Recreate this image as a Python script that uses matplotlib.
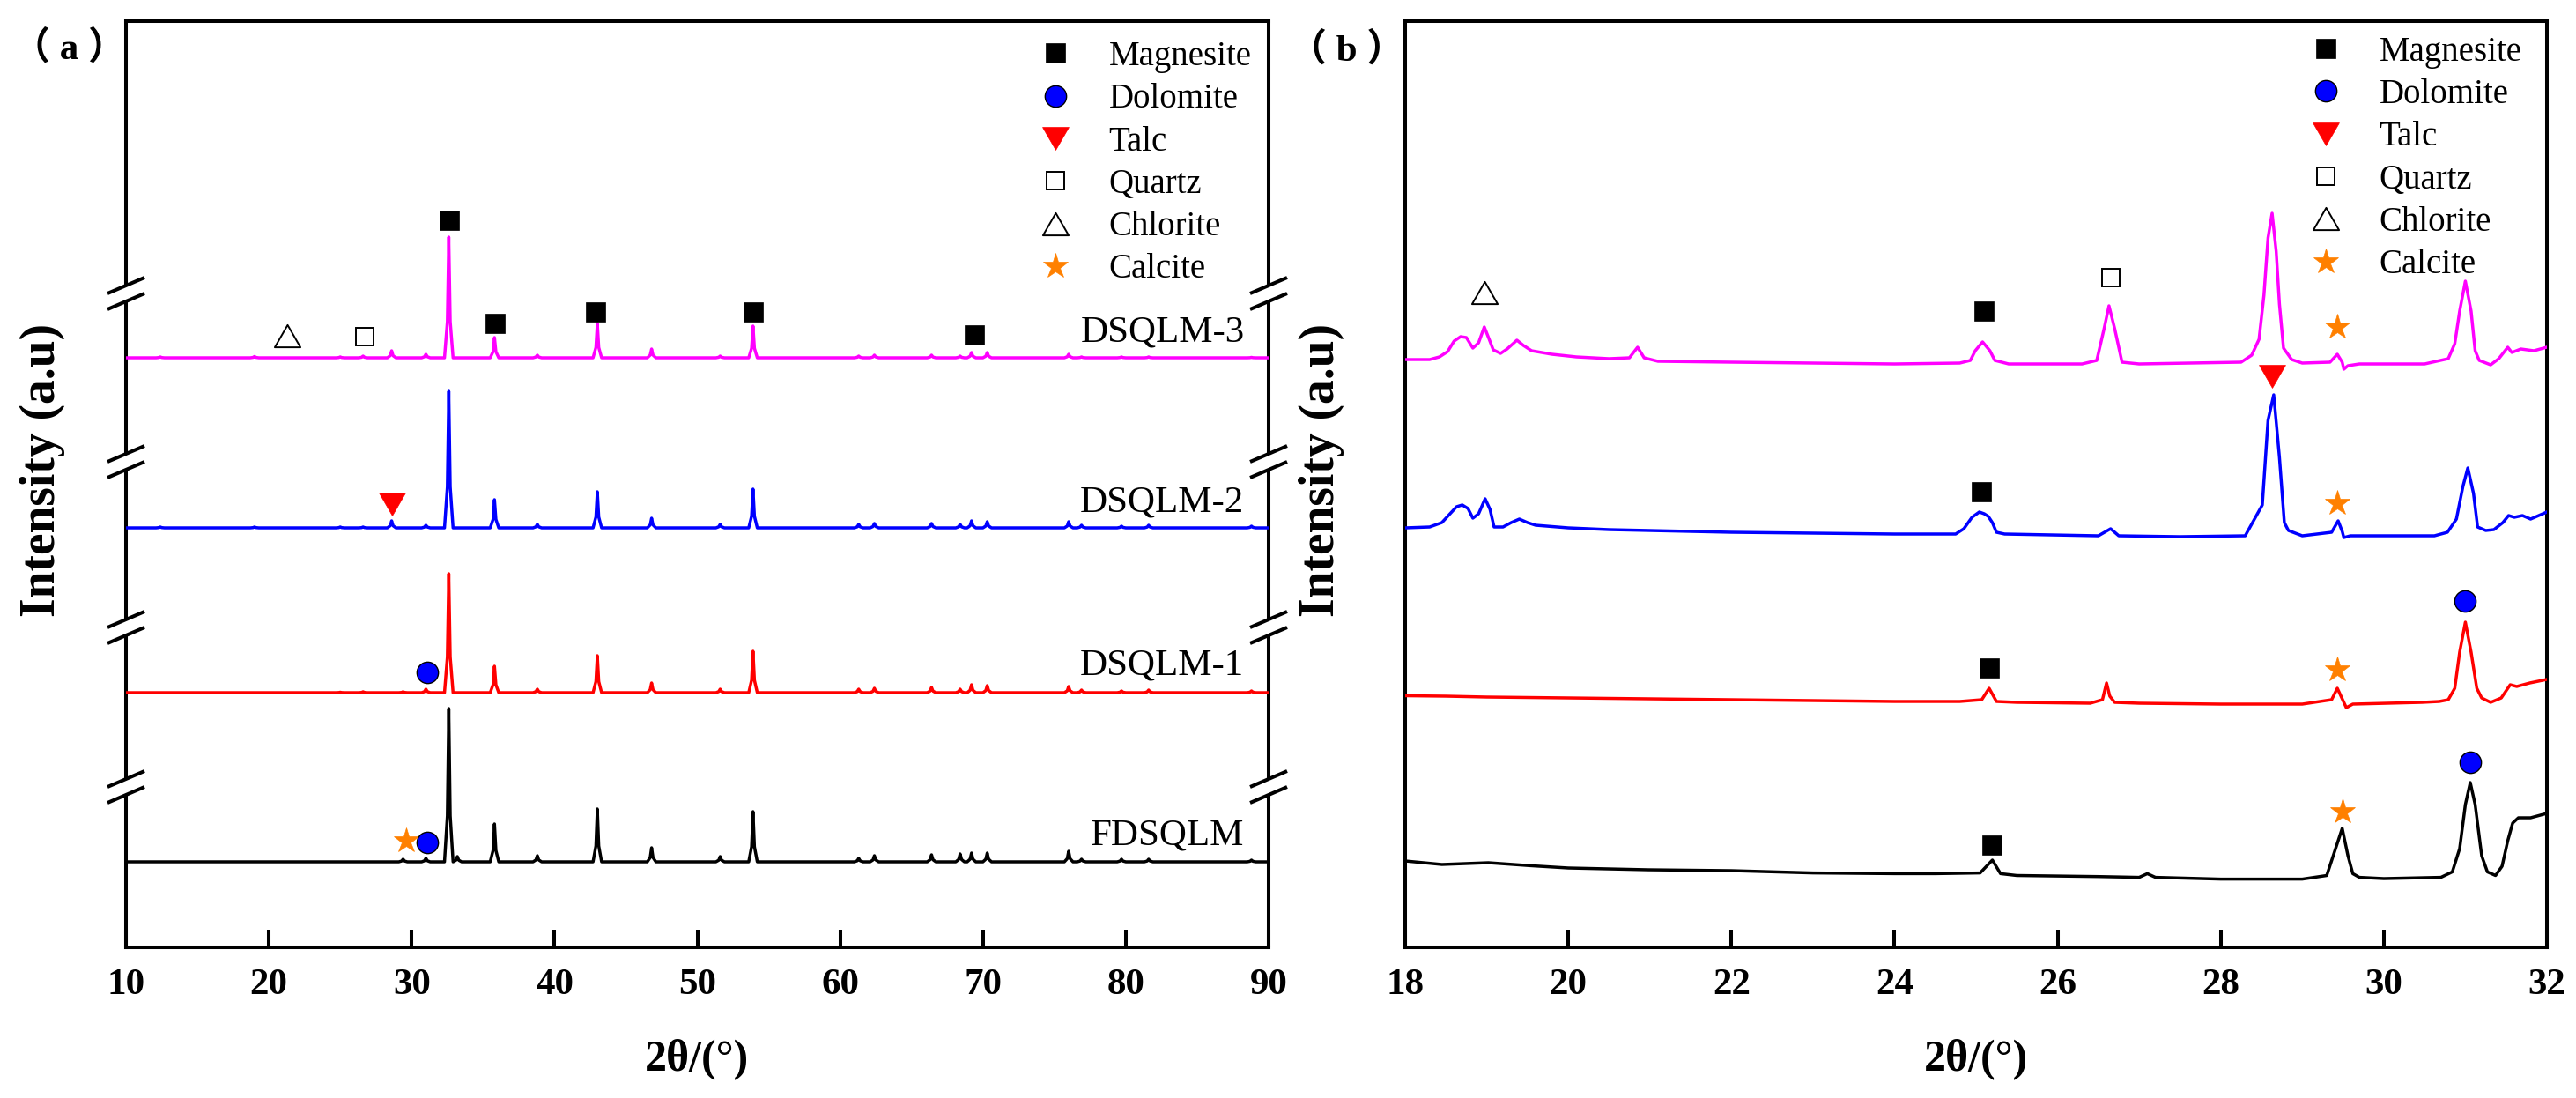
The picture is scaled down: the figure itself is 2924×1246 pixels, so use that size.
import matplotlib
matplotlib.use("Agg")
import matplotlib.pyplot as plt
from matplotlib.lines import Line2D
from matplotlib.path import Path

plt.rcParams['font.family'] = ['Liberation Serif', 'DejaVu Serif']

# ---------------- Panel (a): 2θ = 10–90° ----------------
a_samples = ['FDSQLM', 'DSQLM-1', 'DSQLM-2', 'DSQLM-3']
a_peak_2theta = [12.4, 19.0, 25.0, 26.6, 28.6, 29.4, 31.0, 32.6, 33.2, 35.8, 38.8, 43.0,
                 46.8, 51.6, 53.9, 61.3, 62.4, 66.4, 68.4, 69.2, 70.3, 76.0, 76.9, 79.7,
                 81.6, 88.8]
a_int_fdsqlm = [0, 0, 0, 0, 0, 3, 4, 174, 6, 43, 7, 60, 16, 6, 57, 4, 7, 8, 9, 10, 10, 12, 3, 3, 3, 2]
a_int_dsqlm1 = [0, 0, 0.5, 1, 0, 1, 4, 135, 0, 30, 4, 42, 11, 4, 47, 4, 5, 6, 4, 9, 8, 7, 3, 2, 3, 2]
a_int_dsqlm2 = [1, 1, 1, 1, 8, 0, 3, 155, 0, 32, 4, 41, 11, 4, 44, 4, 5, 5, 4, 8, 7, 7, 3, 2, 3, 2]
a_int_dsqlm3 = [1, 1.5, 1, 2, 8, 0, 4, 137, 0, 23, 3, 39, 10, 2, 36, 2, 3, 3, 2, 6, 6, 4, 1, 1, 1, 0.5]
a_intensities = [a_int_fdsqlm, a_int_dsqlm1, a_int_dsqlm2, a_int_dsqlm3]

# phase identification marks in (a): (sample, phase, 2θ, height above own baseline)
a_marks = [
    ('DSQLM-3', 'Chlorite', 21.3, 25), ('DSQLM-3', 'Quartz', 26.7, 24.5),
    ('DSQLM-3', 'Magnesite', 32.66, 156.5), ('DSQLM-3', 'Magnesite', 35.86, 39.4),
    ('DSQLM-3', 'Magnesite', 42.9, 52), ('DSQLM-3', 'Magnesite', 53.9, 52),
    ('DSQLM-3', 'Magnesite', 69.4, 26),
    ('DSQLM-2', 'Talc', 28.65, 27),
    ('DSQLM-1', 'Dolomite', 31.07, 23),
    ('FDSQLM', 'Calcite', 29.6, 24), ('FDSQLM', 'Dolomite', 31.07, 22),
]
a_xticks = [10, 20, 30, 40, 50, 60, 70, 80, 90]

# ---------------- Panel (b): 2θ = 18–32° ----------------
b_x_dsqlm3 = [18.0, 18.3, 18.42, 18.52, 18.6, 18.68, 18.75, 18.83, 18.9, 18.97, 19.03, 19.08,
              19.17, 19.25, 19.37, 19.45, 19.55, 19.8, 20.1, 20.5, 20.75, 20.85, 20.93, 21.1,
              22.0, 23.0, 24.0, 24.8, 24.93, 24.99, 25.08, 25.17, 25.23, 25.4, 26.3, 26.48,
              26.57, 26.63, 26.7, 26.79, 27.0, 28.25, 28.38, 28.47, 28.53, 28.58, 28.63, 28.68,
              28.72, 28.77, 28.87, 29.0, 29.34, 29.43, 29.49, 29.51, 29.56, 29.7, 30.5, 30.79,
              30.87, 30.93, 31.0, 31.07, 31.12, 31.17, 31.31, 31.41, 31.52, 31.57, 31.68, 31.84,
              32.0]
b_y_dsqlm3 = [5, 5, 8, 14, 26, 31, 30, 18, 24, 42, 28, 16,
              12, 17, 27, 21, 15, 11, 8, 6, 7, 19, 7, 3,
              2, 1, 0, 1, 4, 15, 25, 15, 4, 0, 0, 4,
              40, 66, 40, 2, 0, 2, 10, 28, 78, 143, 171, 128,
              68, 18, 5, 1, 2, 11, 2, -6, -2, 0, 0, 6,
              23, 60, 94, 60, 15, 4, -1, 6, 19, 13, 17, 15,
              19]

b_x_dsqlm2 = [18.0, 18.3, 18.45, 18.55, 18.63, 18.7, 18.77, 18.83, 18.9, 18.98, 19.04, 19.09,
              19.2, 19.3, 19.4, 19.5, 19.6, 20.0, 20.5, 21.0, 22.0, 23.0, 24.0, 24.75,
              24.85, 24.95, 25.04, 25.1, 25.15, 25.2, 25.25, 25.35, 26.5, 26.65, 26.75, 27.5,
              28.3, 28.42, 28.51, 28.58, 28.65, 28.72, 28.78, 28.83, 29.0, 29.36, 29.44, 29.49,
              29.51, 29.59, 30.62, 30.78, 30.89, 30.97, 31.03, 31.1, 31.15, 31.25, 31.35, 31.46,
              31.53, 31.6, 31.7, 31.8, 32.0]
b_y_dsqlm2 = [7, 8, 13, 23, 31, 33, 29, 18, 23, 40, 28, 8,
              8, 13, 17, 13, 10, 7, 5, 4, 2, 1, 0, 0,
              6, 19, 25, 23, 20, 13, 2, 0, -2, 6, -2, -3,
              -2, 18, 33, 129, 158, 87, 13, 4, -2, 2, 15, 3,
              -4, -2, -2, 2, 17, 54, 75, 46, 8, 4, 5, 13,
              21, 19, 21, 17, 25]

b_x_dsqlm1 = [18.0, 18.5, 19.0, 20.0, 21.0, 22.0, 23.0, 24.0, 24.8, 25.07, 25.16, 25.25,
              25.5, 26.4, 26.55, 26.6, 26.64, 26.7, 27.0, 28.0, 29.0, 29.36, 29.43, 29.49,
              29.54, 29.62, 30.47, 30.68, 30.79, 30.87, 30.93, 31.0, 31.07, 31.14, 31.2, 31.31,
              31.44, 31.55, 31.63, 31.79, 32.0]
b_y_dsqlm1 = [6.5, 6, 5, 4, 3, 2, 1, 0, 0, 2, 15, 0,
              -1, -2, 2, 21, 6, -1, -2, -3, -3, 2, 15, 3,
              -7, -3, -1, 0, 2, 15, 56, 90, 56, 15, 4, -1,
              4, 19, 17, 21, 25]

b_x_fdsqlm = [18.0, 18.45, 19.02, 19.54, 20.0, 20.98, 22.0, 23.0, 24.0, 24.5, 25.05, 25.2,
              25.3, 25.5, 26.5, 27.0, 27.1, 27.2, 28.0, 29.0, 29.3, 29.38, 29.49, 29.56,
              29.62, 29.7, 30.0, 30.7, 30.84, 30.93, 31.0, 31.06, 31.12, 31.2, 31.27, 31.37,
              31.45, 31.52, 31.58, 31.65, 31.8, 32.0]
b_y_fdsqlm = [14, 10, 12, 8.6, 6, 4, 3, 0.4, -0.4, -0.4, 0.4, 15,
              -0.4, -2.5, -3.7, -4.6, -0.4, -4.6, -6.6, -6.6, -2.5, 20, 51, 20,
              -0.4, -4.6, -6, -4.6, 1.6, 28, 78, 103, 78, 20, 1.6, -2.5,
              8, 37, 57, 63, 63, 68]

b_x = [b_x_fdsqlm, b_x_dsqlm1, b_x_dsqlm2, b_x_dsqlm3]
b_y = [b_y_fdsqlm, b_y_dsqlm1, b_y_dsqlm2, b_y_dsqlm3]

b_marks = [
    ('DSQLM-3', 'Chlorite', 18.97, 81), ('DSQLM-3', 'Magnesite', 25.1, 60),
    ('DSQLM-3', 'Quartz', 26.65, 98.5), ('DSQLM-3', 'Calcite', 29.43, 42),
    ('DSQLM-2', 'Magnesite', 25.07, 48), ('DSQLM-2', 'Talc', 28.63, 179),
    ('DSQLM-2', 'Calcite', 29.43, 35.5),
    ('DSQLM-1', 'Magnesite', 25.16, 38), ('DSQLM-1', 'Calcite', 29.43, 36),
    ('DSQLM-1', 'Dolomite', 31.0, 114),
    ('FDSQLM', 'Magnesite', 25.19, 32.5), ('FDSQLM', 'Calcite', 29.49, 70),
    ('FDSQLM', 'Dolomite', 31.06, 126.5),
]
b_xticks = [18, 20, 22, 24, 26, 28, 30, 32]

phases = ['Magnesite', 'Dolomite', 'Talc', 'Quartz', 'Chlorite', 'Calcite']

# ---------------- styles / layout ----------------
colors = {'FDSQLM': '#000000', 'DSQLM-1': '#FF0000', 'DSQLM-2': '#0000FF', 'DSQLM-3': '#FF00FF'}
a_offsets = {'FDSQLM': 97, 'DSQLM-1': 289, 'DSQLM-2': 476, 'DSQLM-3': 669}
b_offsets = {'FDSQLM': 84, 'DSQLM-1': 279, 'DSQLM-2': 469, 'DSQLM-3': 662}
YMAX = 1051
PEAK_SHAPE = [(-0.3, 0.0), (-0.1, 0.3), (0.0, 1.0), (0.1, 0.3), (0.3, 0.0)]

tri_up = Path([(-0.5, -0.433), (0.5, -0.433), (0.0, 0.433), (-0.5, -0.433)], closed=True)
tri_dn = Path([(-0.5, 0.433), (0.5, 0.433), (0.0, -0.433), (-0.5, 0.433)], closed=True)
phase_style = {
    'Magnesite': dict(marker='s', ms=15.8, mfc='black', mec='black', mew=0.5),
    'Dolomite': dict(marker='o', ms=17.5, mfc='#0000FF', mec='black', mew=1.0),
    'Talc': dict(marker=tri_dn, ms=21.5, mfc='#FF0000', mec='#FF0000', mew=0.5),
    'Quartz': dict(marker='s', ms=15.0, mfc='white', mec='black', mew=1.4),
    'Chlorite': dict(marker=tri_up, ms=21.0, mfc='white', mec='black', mew=1.4),
    'Calcite': dict(marker='*', ms=21.0, mfc='#FF8000', mec='#FF8000', mew=0.5),
}

W, H = 2924, 1246
fig = plt.figure(figsize=(W / 100, H / 100), dpi=100)


def px_axes(l, t, r, b):
    return fig.add_axes([l / W, 1 - b / H, (r - l) / W, (b - t) / H])


axA = px_axes(143, 24, 1440, 1075)
axB = px_axes(1595, 24, 2891, 1075)

LW = 2.5
SPINE = 2.9

# panel (a) curves
for name, ints in zip(a_samples, a_intensities):
    off = a_offsets[name]
    xs, ys = [10.0], [off]
    for p, h in zip(a_peak_2theta, ints):
        for dx, f in PEAK_SHAPE:
            xs.append(p + dx)
            ys.append(off + h * f)
    xs.append(90.0)
    ys.append(off)
    axA.plot(xs, ys, color=colors[name], lw=LW, solid_joinstyle='round', zorder=3)

for name, ph, x, h in a_marks:
    axA.plot([x], [a_offsets[name] + h], ls='none', zorder=4, **phase_style[ph])

label_pos = {'FDSQLM': 30, 'DSQLM-1': 31, 'DSQLM-2': 29, 'DSQLM-3': 29}
for name in a_samples:
    axA.text(88.3, a_offsets[name] + label_pos[name], name, fontsize=31,
             ha='right', va='center')

# panel (b) curves
for name, xs, ys in zip(a_samples, b_x, b_y):
    off = b_offsets[name]
    axB.plot(xs, [off + v for v in ys], color=colors[name], lw=LW,
             solid_joinstyle='round', zorder=3)

for name, ph, x, h in b_marks:
    axB.plot([x], [b_offsets[name] + h], ls='none', zorder=4, **phase_style[ph])

# axes formatting
for ax, lim, ticks in [(axA, (10, 90), a_xticks), (axB, (18, 32), b_xticks)]:
    ax.set_xlim(*lim)
    ax.set_ylim(0, YMAX)
    ax.set_xticks(ticks, [str(t) for t in ticks], fontweight='bold', fontsize=31)
    ax.set_yticks([])
    ax.tick_params(axis='x', direction='in', length=14.4, width=SPINE, pad=17, top=False)
    for sp in ax.spines.values():
        sp.set_linewidth(SPINE)
    ax.set_xlabel('2θ/(°)', fontsize=36, fontweight='bold')
    ax.xaxis.set_label_coords(0.5, -0.121)
    ax.xaxis.label.set_va('center')
    ax.set_ylabel('Intensity (a.u)', fontsize=40, fontweight='bold')
    ax.yaxis.set_label_coords(-0.0732, 0.5157)
    ax.yaxis.label.set_va('center')
    handles = [Line2D([], [], ls='none', **phase_style[p]) for p in phases]
    ax.legend(handles, phases, loc='upper right', frameon=False, fontsize=28,
              handlelength=1.5, handletextpad=0.8, labelspacing=0.29,
              borderpad=0, borderaxespad=0,
              bbox_to_anchor=(0.985 if ax is axA else 0.978,
                              0.979 if ax is axA else 0.984))

# axis-break marks on panel (a) spines
break_levels = [182, 363, 551, 742]
tr = axA.get_yaxis_transform()
hw = 21 / 1297
for xs in (0, 1):
    for yc in break_levels:
        axA.plot([xs, xs], [yc - 9, yc + 9], color='white', lw=SPINE + 1.5,
                 transform=tr, clip_on=False, zorder=5, solid_capstyle='butt')
        for s in (-9, 9):
            axA.plot([xs - hw, xs + hw], [yc + s - 9, yc + s + 9], color='black',
                     lw=SPINE, transform=tr, clip_on=False, zorder=6,
                     solid_capstyle='butt')

fig.text(78 / W, 1 - 55 / H, '（ a ）', fontsize=31, fontweight='bold', ha='center', va='center',
         family=['Liberation Serif', 'Noto Sans CJK SC'])
fig.text(1529 / W, 1 - 57 / H, '（ b ）', fontsize=31, fontweight='bold', ha='center', va='center',
         family=['Liberation Serif', 'Noto Sans CJK SC'])

fig.savefig('out.png', dpi=100, facecolor='white')
